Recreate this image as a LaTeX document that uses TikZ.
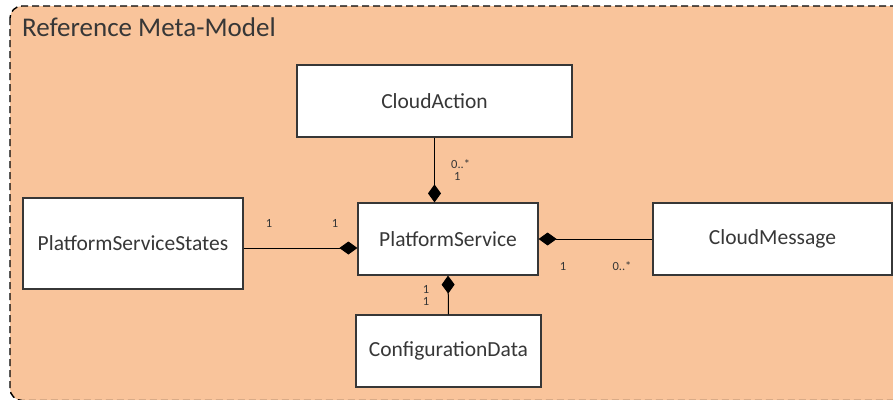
\documentclass[tikz,border=0pt]{standalone}
\usepackage{fontspec}
\setmainfont{Carlito}
\usetikzlibrary{arrows.meta}
\definecolor{panelfill}{RGB}{249,196,155}
\definecolor{inkgray}{RGB}{55,55,55}
\tikzset{
  cls/.style={draw=inkgray, line width=1.2pt, fill=white, inner sep=0pt,
    font=\fontsize{21.5}{25}\selectfont, text=inkgray},
  comp/.style={draw=black, line width=1pt,
    -{Diamond[length=18pt,width=13pt]}},
  mult/.style={font=\fontsize{12.5}{14}\selectfont, text=inkgray, inner sep=0pt},
}
\begin{document}
\begin{tikzpicture}[x=1pt,y=-1pt]
\useasboundingbox (0,0) rectangle (893,399);
% model panel
\begin{scope}
  \clip (0,0) rectangle (893,399);
  \draw[fill=panelfill, dashed, dash pattern=on 7pt off 4pt, line width=1.4pt,
    rounded corners=12pt] (10,6) rectangle (920,400.5);
\end{scope}
\node[anchor=base west, font=\fontsize{27}{32}\selectfont, text=inkgray, inner sep=0pt]
  (title) at (22,36) {Reference Meta-Model};

% classes
\node[cls, minimum width=275pt, minimum height=72pt] (ca)  at (434.5,101) {CloudAction};
\node[cls, minimum width=220pt, minimum height=91pt] (pss) at (133,243.5) {PlatformServiceStates};
\node[cls, minimum width=180pt, minimum height=72pt] (ps)  at (448,239) {PlatformService};
\node[cls, minimum width=239pt, minimum height=72pt] (cm)  at (772.5,239) {CloudMessage};
\node[cls, minimum width=185pt, minimum height=72pt] (cd)  at (448.5,351) {ConfigurationData};

% composition links
\draw[comp] (ca.south) -- (ca.south |- ps.north);
\draw[comp] ([yshift=-4.5pt]pss.east) -- ([yshift=-4.5pt]pss.east -| ps.west);
\draw[comp] (cm.west) -- (ps.east);
\draw[comp] (cd.north) -- (ps.south);

% multiplicities
\node[mult, anchor=west] (m1) at (451,164) {0..*};
\node[mult, anchor=west] (m2) at (454,176) {1};
\node[mult] (m3) at (269,223) {1};
\node[mult] (m4) at (335,223) {1};
\node[mult] (m5) at (563,266) {1};
\node[mult] (m6) at (622,266) {0..*};
\node[mult] (m7) at (426,289) {1};
\node[mult] (m8) at (426,301) {1};
\end{tikzpicture}
\end{document}
